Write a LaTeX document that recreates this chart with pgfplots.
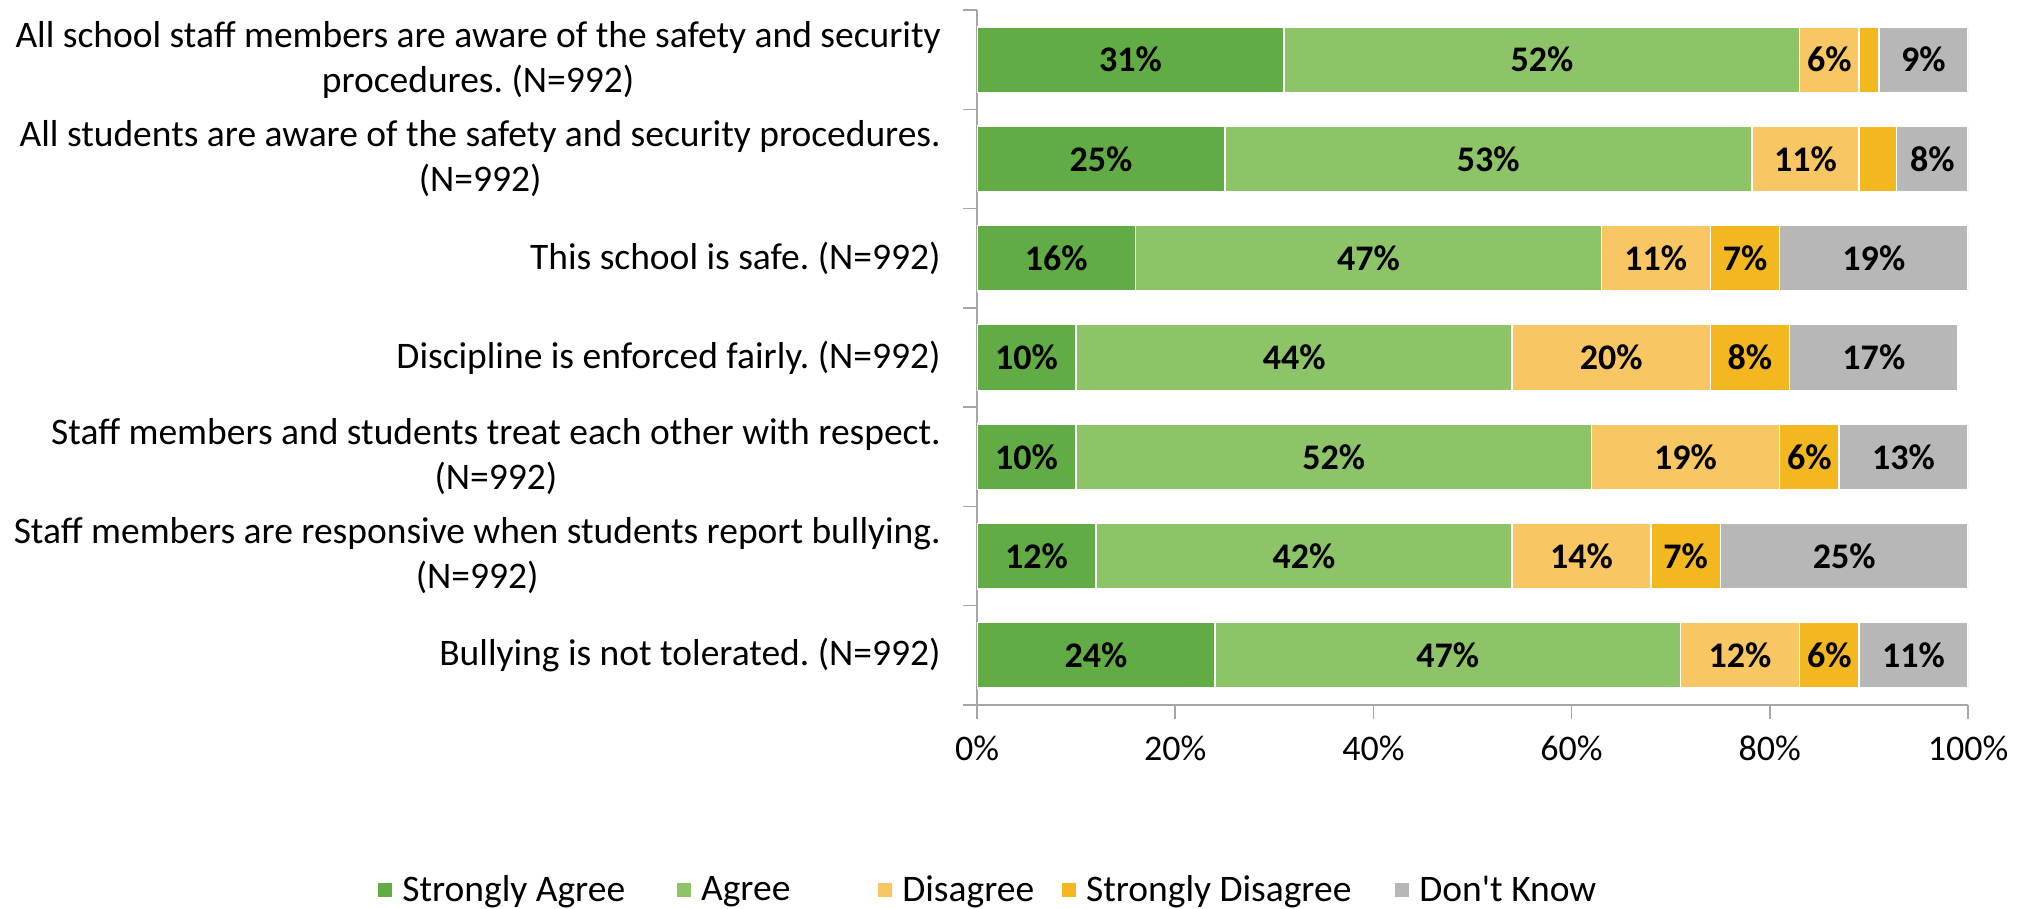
\documentclass[border=0pt]{standalone}
\usepackage{pgfplots}
\pgfplotsset{compat=1.18}
\usepackage{pgfplotstable}
\usepackage{fontspec}
\setmainfont{Carlito}
\frenchspacing
\definecolor{cSA}{HTML}{62AC46}
\definecolor{cA}{HTML}{8DC468}
\definecolor{cD}{HTML}{F8C662}
\definecolor{cSD}{HTML}{F3B71F}
\definecolor{cDK}{HTML}{B7B7B7}
\definecolor{axgray}{HTML}{A6A6A6}
% x values: segment widths as drawn; *m columns: printed labels; SDv: 1 = label shown
\pgfplotstableread{
y SA SAm A Am D Dm SD SDm DK DKm SDv
0 24 24 47 47 12 12 6 6 11 11 1
1 12 12 42 42 14 14 7 7 25 25 1
2 10 10 52 52 19 19 6 6 13 13 1
3 10 10 44 44 20 20 8 8 17 17 1
4 16 16 47 47 11 11 7 7 19 19 1
5 25 25 53.2 53 10.8 11 3.8 4 7.2 8 0
6 31 31 52 52 6 6 2 2 9 9 0
}\datatab
\pgfplotsset{legsq/.style={legend image code/.code={\fill[#1, draw=none] (0bp,-3.5bp) rectangle (7bp,3.5bp); \path[draw=none, fill=none] (0bp,0bp) -- (10bp,0bp);}}}
\begin{document}
\begin{tikzpicture}
\begin{axis}[
  at={(488.5bp,102bp)}, anchor=south west,
  scale only axis, width=495.5bp, height=347.5bp,
  xbar stacked, bar width=0.66,
  xmin=0, xmax=100, ymin=-0.5, ymax=6.5,
  /pgf/number format/assume math mode=true,
  axis x line*=bottom, axis y line*=left,
  axis line style={-, draw=axgray, line width=0.75bp},
  tick style={draw=axgray, line width=0.75bp},
  tick align=outside, major tick length=7bp,
  xtick={0,20,...,100},
  xticklabel={\pgfmathprintnumber{\tick}\%},
  xticklabel style={font=\fontsize{18bp}{22bp}\selectfont, yshift=-5bp},
  ytick={-0.5,0.5,...,6.5}, yticklabels={},
  extra y ticks={0,...,6},
  extra y tick labels={Bullying is not tolerated. (N=992),
    Staff members are responsive when students report bullying.\\(N=992),
    Staff members and students treat each other with respect.\\(N=992),
    Discipline is enforced fairly. (N=992),
    This school is safe. (N=992),
    All students are aware of the safety and security procedures.\\(N=992),
    All school staff members are aware of the safety and security\\procedures. (N=992)},
  extra y tick style={major tick length=0pt, yticklabel style={align=center, inner sep=0pt, xshift=-18bp, font=\fontsize{18.75bp}{22.5bp}\selectfont}},
  legend style={at={(0.0125,-0.266)}, anchor=center, draw=none, legend columns=5,
    font=\fontsize{18.75bp}{22bp}\selectfont,
    /tikz/every even column/.append style={column sep=12bp}},
  every axis plot/.append style={draw=white, line width=0.75bp},
  nodes near coords,
  every node near coord/.append style={font=\bfseries\fontsize{18bp}{22bp}\selectfont, text=black},
  point meta=explicit,
  nodes near coords={\pgfmathprintnumber{\pgfplotspointmeta}\%},
]
\addplot[fill=cSA, draw=white, legsq=cSA] table[x=SA, y=y, meta=SAm] {\datatab};
\addlegendentry{Strongly Agree\rule{12bp}{0pt}}
\addplot[fill=cA, draw=white, legsq=cA] table[x=A, y=y, meta=Am] {\datatab};
\addlegendentry{Agree\rule{30bp}{0pt}}
\addplot[fill=cD, draw=white, legsq=cD] table[x=D, y=y, meta=Dm] {\datatab};
\addlegendentry{Disagree}
\addplot[fill=cSD, draw=white, legsq=cSD,
  visualization depends on={\thisrow{SDv}\as\vis},
  nodes near coords={\ifdim\vis pt>0.5pt\pgfmathprintnumber{\pgfplotspointmeta}\%\fi}] table[x=SD, y=y, meta=SDm] {\datatab};
\addlegendentry{Strongly Disagree\rule{8bp}{0pt}}
\addplot[fill=cDK, draw=white, legsq=cDK] table[x=DK, y=y, meta=DKm] {\datatab};
\addlegendentry{Don\textquotesingle t Know}
\end{axis}
\pgfresetboundingbox
\useasboundingbox (0,0) rectangle (1014bp,454.5bp);
\end{tikzpicture}
\end{document}
